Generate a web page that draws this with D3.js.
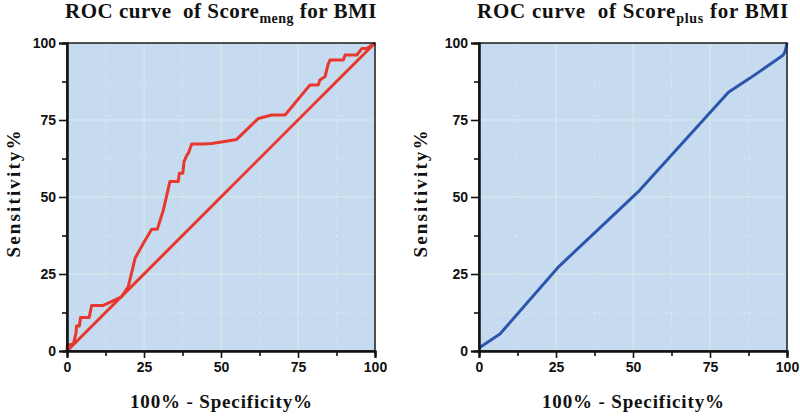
<!DOCTYPE html>
<html>
<head>
<meta charset="utf-8">
<script src="https://cdn.jsdelivr.net/npm/d3@7"></script>
<style>
  body { margin: 0; background: #fff; }
  svg { display: block; }
</style>
</head>
<body>
<svg id="chart" width="800" height="416"></svg>
<script>
// ROC curve points (100% - specificity, sensitivity)
const mengFpr = [0, 0.1, 2.1, 2.9, 3.1, 4.0, 4.4, 7.2, 8.0, 11.8, 17.7, 19.9, 22.1, 24.8, 27.5, 29.3, 31.3, 33.4, 36.1, 36.5, 37.6, 38.0, 38.5, 38.9, 39.4, 40.5, 44.3, 47.0, 55.1, 62.1, 66.5, 70.8, 78.9, 81.6, 82.1, 83.8, 84.3, 84.8, 85.4, 89.7, 90.3, 94.1, 95.7, 97.3, 100];
const mengTpr = [0, 1.9, 2.3, 5.7, 8.1, 8.1, 10.9, 10.9, 14.8, 14.8, 17.6, 20.9, 30.1, 35.0, 39.5, 39.5, 45.8, 55.0, 55.0, 57.7, 57.7, 61.5, 62.6, 63.6, 64.2, 67.2, 67.2, 67.4, 68.7, 75.5, 76.6, 76.6, 86.4, 86.4, 88.0, 89.1, 91.2, 93.1, 94.5, 94.5, 96.1, 96.1, 98.2, 98.2, 100];

const plusFpr = [0, 6.8, 26, 52, 81, 88, 98.7, 99.3, 100];
const plusTpr = [1, 5.5, 27.5, 52, 84, 88.6, 96, 97, 100];

const diagFpr = [0, 100];
const diagTpr = [0, 100];

const majorTicks = [0, 25, 50, 75, 100];
const minorTicks = [12.5, 37.5, 62.5, 87.5];

const panels = [
  { left: 67, sub: "meng", curves: [[mengFpr, mengTpr], [diagFpr, diagTpr]], color: "#e8382e", ylabX: 20 },
  { left: 479, sub: "plus", curves: [[plusFpr, plusTpr]], color: "#2c56ad", ylabX: 427 }
];

const plotTop = 43, size = 308;
const svg = d3.select("#chart");

panels.forEach(function(p) {
  const x = d3.scaleLinear().domain([0, 100]).range([p.left, p.left + size]);
  const y = d3.scaleLinear().domain([0, 100]).range([plotTop + size, plotTop]);

  // background
  svg.append("rect")
    .attr("x", x(0)).attr("y", y(100))
    .attr("width", x(100) - x(0)).attr("height", y(0) - y(100))
    .attr("fill", "#c6daf0");

  // grid
  const grid = svg.append("g");
  majorTicks.slice(1, 4).forEach(function(v) {
    grid.append("line").attr("x1", x(v)).attr("x2", x(v)).attr("y1", y(0)).attr("y2", y(100))
      .attr("stroke", "#d6ece6").attr("stroke-width", 1.2);
    grid.append("line").attr("x1", x(0)).attr("x2", x(100)).attr("y1", y(v)).attr("y2", y(v))
      .attr("stroke", "#d6ece6").attr("stroke-width", 1.2);
  });
  minorTicks.forEach(function(v) {
    grid.append("line").attr("x1", x(v)).attr("x2", x(v)).attr("y1", y(0)).attr("y2", y(100))
      .attr("stroke", "#d6ece6").attr("stroke-width", 1.2).attr("stroke-dasharray", "2,4");
    grid.append("line").attr("x1", x(0)).attr("x2", x(100)).attr("y1", y(v)).attr("y2", y(v))
      .attr("stroke", "#d6ece6").attr("stroke-width", 1.2).attr("stroke-dasharray", "2,4");
  });

  // curves
  const line = d3.line().x(d => x(d[0])).y(d => y(d[1]));
  p.curves.forEach(function(c) {
    const pts = c[0].map((v, i) => [v, c[1][i]]);
    svg.append("path").datum(pts)
      .attr("d", line)
      .attr("fill", "none")
      .attr("stroke", p.color)
      .attr("stroke-width", 3)
      .attr("stroke-linejoin", "round");
  });

  // frame
  svg.append("rect")
    .attr("x", x(0)).attr("y", y(100))
    .attr("width", x(100) - x(0)).attr("height", y(0) - y(100))
    .attr("fill", "none").attr("stroke", "#1a1a1a").attr("stroke-width", 1.5);

  // axes
  svg.append("g").attr("transform", `translate(0, ${y(0)})`)
    .call(d3.axisBottom(x).tickValues(majorTicks).tickSize(7).tickPadding(4).tickFormat(d3.format("d")));
  svg.append("g").attr("transform", `translate(0, ${y(0)})`)
    .call(d3.axisBottom(x).tickValues(minorTicks).tickSize(5).tickFormat(""));
  svg.append("g").attr("transform", `translate(${x(0)}, 0)`)
    .call(d3.axisLeft(y).tickValues(majorTicks).tickSize(8).tickPadding(3).tickFormat(d3.format("d")));
  svg.append("g").attr("transform", `translate(${x(0)}, 0)`)
    .call(d3.axisLeft(y).tickValues(minorTicks).tickSize(5).tickFormat(""));

  svg.selectAll(".domain").attr("stroke", "#111").attr("stroke-width", 2);
  svg.selectAll(".tick line").attr("stroke", "#111").attr("stroke-width", 1.6);
  svg.selectAll(".tick text")
    .attr("font-family", "Liberation Sans, Arial, sans-serif")
    .attr("font-weight", "bold")
    .attr("font-size", 14)
    .attr("fill", "#111");

  // title
  const cx = (x(0) + x(100)) / 2;
  const title = svg.append("text")
    .attr("x", cx).attr("y", 18)
    .attr("text-anchor", "middle")
    .attr("font-family", "Liberation Serif, Times New Roman, serif")
    .attr("font-weight", "bold")
    .attr("font-size", 21)
    .attr("fill", "#111");
  title.append("tspan").text("ROC curve\u00a0\u00a0of Score");
  title.append("tspan").attr("font-size", 14).attr("dy", 5).text(p.sub);
  title.append("tspan").attr("dy", -5).text(" for BMI");
  const tw = title.node().getComputedTextLength();
  const nChars = ("ROC curve  of Score" + p.sub + " for BMI").length;
  title.attr("letter-spacing", Math.max(0, (size + 4 - tw) / nChars).toFixed(2));

  // x label
  svg.append("text")
    .attr("x", cx).attr("y", 408)
    .attr("text-anchor", "middle")
    .attr("font-family", "Liberation Serif, Times New Roman, serif")
    .attr("font-weight", "bold")
    .attr("font-size", 19)
    .attr("textLength", 182)
    .attr("lengthAdjust", "spacing")
    .attr("fill", "#111")
    .text("100% - Specificity%");

  // y label
  svg.append("text")
    .attr("transform", `translate(${p.ylabX}, ${194}) rotate(-90)`)
    .attr("text-anchor", "middle")
    .attr("font-family", "Liberation Serif, Times New Roman, serif")
    .attr("font-weight", "bold")
    .attr("font-size", 19)
    .attr("textLength", 127)
    .attr("lengthAdjust", "spacing")
    .attr("fill", "#111")
    .text("Sensitivity%");
});
</script>
</body>
</html>
